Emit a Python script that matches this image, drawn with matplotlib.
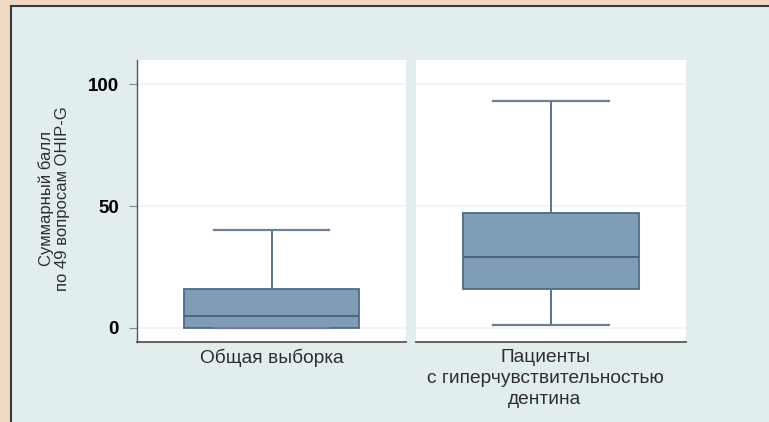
import matplotlib.pyplot as plt
from matplotlib.patches import Rectangle
from matplotlib.lines import Line2D
from matplotlib.transforms import ScaledTranslation

plt.rcParams['font.family'] = ['Liberation Sans', 'DejaVu Sans']

# сводные статистики по двум группам
groups = ['Общая выборка', 'Пациенты\nс гиперчувствительностью\nдентина']
whislo = [0, 1]
q1 = [0, 16]
med = [5, 29]
q3 = [16, 47]
whishi = [40, 93]

yticks = [0, 50, 100]
ylabel = 'Суммарный балл\nпо 49 вопросам OHIP-G'

W, H = 769, 422
fig = plt.figure(figsize=(W / 100, H / 100), dpi=100)
fig.patch.set_facecolor('#f1d8c0')

# светлая подложка с тёмной рамкой слева и сверху
fig.patches.append(Rectangle((11 / W, 0), 1 - 11 / W, 1 - 6 / H, transform=fig.transFigure,
                             facecolor='#e2eded', edgecolor='none', zorder=-5))
fig.lines.append(Line2D([10.5 / W, 10.5 / W], [0, 1 - 5.5 / H], transform=fig.transFigure,
                        color='#3a3a3a', lw=1.5, zorder=-4))
fig.lines.append(Line2D([10.5 / W, 1], [1 - 5.5 / H, 1 - 5.5 / H], transform=fig.transFigure,
                        color='#3a3a3a', lw=1.5, zorder=-4))

top, bottom = 60, 342
panels = [(137, 406), (416, 686)]

for i, (x0, x1) in enumerate(panels):
    ax = fig.add_axes([x0 / W, 1 - bottom / H, (x1 - x0) / W, (bottom - top) / H])
    ax.set_zorder(2)
    ax.set_facecolor('white')
    stats = [{'whislo': whislo[i], 'q1': q1[i], 'med': med[i], 'q3': q3[i], 'whishi': whishi[i]}]
    ax.bxp(stats, positions=[1], widths=0.65, capwidths=0.43, showfliers=False, patch_artist=True,
           boxprops=dict(facecolor='#809db8', edgecolor='#4f6a88', linewidth=1.3),
           medianprops=dict(color='#4a6482', linewidth=1.4),
           whiskerprops=dict(color='#5a7491', linewidth=1.4),
           capprops=dict(color='#6e7f94', linewidth=1.6))
    ax.set_xlim(0.5, 1.5)
    ax.set_ylim(-5.8, 110)
    for y in yticks:
        ax.axhline(y, color='#eef3f3', lw=1.2, zorder=0)
    ax.set_xticks([1])
    ax.set_xticklabels([groups[i]], fontsize=13.8, color='#2e2e2e', linespacing=1.3)
    ax.tick_params(axis='x', length=0, pad=5)
    if i == 1:
        # многострочную подпись чуть сдвигаем влево
        for lbl in ax.get_xticklabels():
            lbl.set_transform(lbl.get_transform() + ScaledTranslation(-0.06, 0, fig.dpi_scale_trans))
    for s in ['top', 'right']:
        ax.spines[s].set_visible(False)
    ax.spines['bottom'].set_color('#555555')
    ax.spines['bottom'].set_linewidth(1.3)
    if i == 0:
        ax.set_yticks(yticks)
        ax.set_yticklabels([str(v) for v in yticks], fontsize=13.5, fontweight='bold')
        ax.tick_params(axis='y', length=6, width=0.8, color='#888888', pad=7)
        ax.spines['left'].set_color('#555555')
        ax.spines['left'].set_linewidth(1.0)
        ax.set_ylabel(ylabel, fontsize=12, color='#2e2e2e', linespacing=1.1)
        ax.yaxis.set_label_coords((70 - x0) / (x1 - x0), 0.51)
    else:
        ax.set_yticks([])
        ax.spines['left'].set_visible(False)

fig.savefig('out.png', dpi=100, facecolor=fig.get_facecolor())
